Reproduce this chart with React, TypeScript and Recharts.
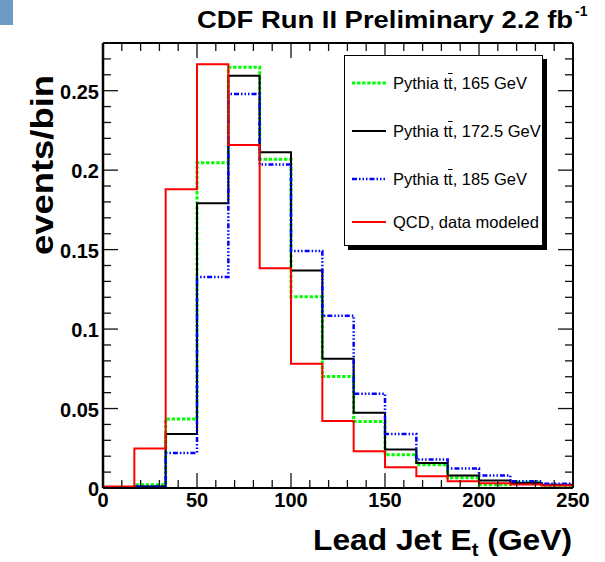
import React from 'react';
import { ComposedChart, Line, XAxis, YAxis, Legend } from 'recharts';

const FONT = '"Liberation Sans", Arial, Helvetica, sans-serif';

// Bin edges of the Lead Jet Et histogram (15 bins from 0 to 250 GeV)
const binEdges = [0, 16.67, 33.33, 50, 66.67, 83.33, 100, 116.67, 133.33, 150, 166.67, 183.33, 200, 216.67, 233.33, 250];

// events/bin per series (one value per bin)
const pythia165 = [0, 0.002, 0.0434, 0.2047, 0.2647, 0.2069, 0.1203, 0.0702, 0.0419, 0.021, 0.0147, 0.0065, 0.002, 0.0036, 0.001];
const pythia1725 = [0, 0.001, 0.034, 0.1792, 0.2594, 0.2113, 0.1368, 0.0813, 0.0474, 0.0243, 0.0158, 0.0079, 0.0047, 0.0032, 0.002];
const pythia185 = [0, 0.001, 0.0221, 0.1327, 0.2479, 0.2035, 0.1492, 0.1084, 0.0593, 0.034, 0.018, 0.0122, 0.0078, 0.0042, 0.0027];
const qcd = [0.001, 0.0248, 0.188, 0.2666, 0.2158, 0.1383, 0.0782, 0.0422, 0.0231, 0.013, 0.0074, 0.0042, 0.003, 0.0022, 0.0016];

// Axis ticks and labels
const xTicks = [0, 10, 20, 30, 40, 50, 60, 70, 80, 90, 100, 110, 120, 130, 140, 150, 160, 170, 180, 190, 200, 210, 220, 230, 240, 250];
const xLabelValues = [0, 50, 100, 150, 200, 250];
const yTicks = [0, 0.01, 0.02, 0.03, 0.04, 0.05, 0.06, 0.07, 0.08, 0.09, 0.1, 0.11, 0.12, 0.13, 0.14, 0.15, 0.16, 0.17, 0.18, 0.19, 0.2, 0.21, 0.22, 0.23, 0.24, 0.25, 0.26, 0.27, 0.28];
const yLabelValues = [0, 0.05, 0.1, 0.15, 0.2, 0.25];
const yLabelTexts = ['0', '0.05', '0.1', '0.15', '0.2', '0.25'];

const seriesKeys = ['p165', 'p1725', 'p185', 'qcd'];
const seriesColors = ['#00ff00', '#000000', '#0000ff', '#ff0000'];
const seriesWidths = [3, 2, 2.5, 2];
const seriesDashes = ['3.3 1.8', undefined, '5 2 1.5 2 1.5 2 1.5 2', undefined];
const legendMass = ['165 GeV', '172.5 GeV', '185 GeV'];
const legendRowCenters = [27, 75, 123, 166];

const seriesValues = [pythia165, pythia1725, pythia185, qcd];

const rows = binEdges.map((x, i) => {
  const r: Record<string, number> = { x };
  seriesKeys.forEach((k, s) => {
    const vals = seriesValues[s];
    r[k] = vals[Math.min(i, vals.length - 1)];
  });
  return r;
});

const yLabelFor = (v: number) => {
  const idx = yLabelValues.findIndex((m) => Math.abs(m - v) < 1e-9);
  return idx >= 0 ? yLabelTexts[idx] : null;
};

const TICK_COLOR = '#111';

function BottomTick(props: any) {
  const { x, y, payload } = props;
  const v = payload.value;
  const major = xLabelValues.includes(v);
  return (
    <g>
      <line x1={x} x2={x} y1={y} y2={y - (major ? 15 : 8)} stroke={TICK_COLOR} strokeWidth={1.3} />
      {major && (
        <text x={x} y={y + 19} textAnchor="middle" fontSize={20} fontWeight="bold" fontFamily={FONT} fill="#000">
          {v}
        </text>
      )}
    </g>
  );
}

function TopTick(props: any) {
  const { x, y, payload } = props;
  const major = xLabelValues.includes(payload.value);
  return <line x1={x} x2={x} y1={y} y2={y + (major ? 15 : 8)} stroke={TICK_COLOR} strokeWidth={1.3} />;
}

function LeftTick(props: any) {
  const { x, y, payload } = props;
  const label = yLabelFor(payload.value);
  const major = label !== null;
  return (
    <g>
      <line x1={x} x2={x + (major ? 15 : 8)} y1={y} y2={y} stroke={TICK_COLOR} strokeWidth={1.3} />
      {major && (
        <text x={x - 4} y={y + 8} textAnchor="end" fontSize={20} fontWeight="bold" fontFamily={FONT} fill="#000">
          {label}
        </text>
      )}
    </g>
  );
}

function RightTick(props: any) {
  const { x, y, payload } = props;
  const major = yLabelFor(payload.value) !== null;
  return <line x1={x} x2={x - (major ? 15 : 8)} y1={y} y2={y} stroke={TICK_COLOR} strokeWidth={1.3} />;
}

function LegendLabel({ i }: { i: number }) {
  if (i < 3) {
    return (
      <span>
        Pythia t<span style={{ textDecoration: 'overline' }}>t</span>, {legendMass[i]}
      </span>
    );
  }
  return <span>QCD, data modeled</span>;
}

function LegendBox() {
  return (
    <div
      style={{
        position: 'relative',
        width: 199,
        height: 191,
        boxSizing: 'border-box',
        border: '1px solid #000',
        background: '#fff',
        boxShadow: '4px 4px 0 #000',
        fontFamily: FONT,
        fontSize: 16.5,
        color: '#000',
      }}
    >
      {seriesKeys.map((k, i) => (
        <div
          key={k}
          style={{
            position: 'absolute',
            left: 0,
            top: legendRowCenters[i] - 10,
            height: 20,
            display: 'flex',
            alignItems: 'center',
            whiteSpace: 'nowrap',
          }}
        >
          <svg width={48} height={20} style={{ display: 'block' }}>
            <line
              x1={7}
              x2={41}
              y1={10}
              y2={10}
              stroke={seriesColors[i]}
              strokeWidth={seriesWidths[i]}
              strokeDasharray={seriesDashes[i]}
            />
          </svg>
          <span style={{ lineHeight: '20px' }}>
            <LegendLabel i={i} />
          </span>
        </div>
      ))}
    </div>
  );
}

export default function App() {
  return (
    <div
      style={{
        position: 'absolute',
        left: 0,
        top: 0,
        width: 605,
        height: 562,
        background: '#fff',
        overflow: 'hidden',
        fontFamily: FONT,
      }}
    >
      <div style={{ position: 'absolute', left: 0, top: 0, width: 13, height: 25, background: '#6b9bc4' }} />
      <ComposedChart width={605} height={562} data={rows} margin={{ top: 42, right: 31, bottom: 73, left: 102 }}>
        <XAxis
          dataKey="x"
          type="number"
          domain={[0, 250]}
          allowDataOverflow
          ticks={xTicks}
          interval={0}
          tickSize={0}
          tickMargin={0}
          height={1}
          tickLine={false}
          tick={BottomTick}
          axisLine={{ stroke: '#000', strokeWidth: 2 }}
        />
        <XAxis
          xAxisId="top"
          orientation="top"
          dataKey="x"
          type="number"
          domain={[0, 250]}
          allowDataOverflow
          ticks={xTicks}
          interval={0}
          tickSize={0}
          tickMargin={0}
          height={1}
          tickLine={false}
          tick={TopTick}
          axisLine={{ stroke: '#000', strokeWidth: 2 }}
        />
        <YAxis
          type="number"
          domain={[0, 0.28]}
          allowDataOverflow
          ticks={yTicks}
          interval={0}
          tickSize={0}
          tickMargin={0}
          width={1}
          tickLine={false}
          tick={LeftTick}
          axisLine={{ stroke: '#000', strokeWidth: 2.5 }}
        />
        <YAxis
          yAxisId="right"
          orientation="right"
          type="number"
          domain={[0, 0.28]}
          allowDataOverflow
          ticks={yTicks}
          interval={0}
          tickSize={0}
          tickMargin={0}
          width={1}
          tickLine={false}
          tick={RightTick}
          axisLine={{ stroke: '#000', strokeWidth: 2 }}
        />
        {seriesKeys.map((k, i) => (
          <Line
            key={k}
            dataKey={k}
            type="stepAfter"
            stroke={seriesColors[i]}
            strokeWidth={seriesWidths[i]}
            strokeDasharray={seriesDashes[i]}
            dot={false}
            activeDot={false}
            isAnimationActive={false}
            strokeLinecap="butt"
            strokeLinejoin="miter"
          />
        ))}
        <Legend
          layout="horizontal"
          verticalAlign="middle"
          align="center"
          content={() => <LegendBox />}
          wrapperStyle={{ position: 'absolute', left: 344, top: 55, width: 199, height: 191 }}
        />
      </ComposedChart>
      <svg
        width={605}
        height={562}
        style={{ position: 'absolute', left: 0, top: 0, pointerEvents: 'none' }}
      >
        <text
          x={197}
          y={28}
          textLength={376}
          lengthAdjust="spacingAndGlyphs"
          fontSize={24}
          fontWeight="bold"
          fontFamily={FONT}
          fill="#000"
        >
          CDF Run II Preliminary 2.2 fb
        </text>
        <text x={575} y={16} fontSize={14} fontWeight="bold" fontFamily={FONT} fill="#000">
          -1
        </text>
        <text
          transform="translate(53,165) rotate(-90)"
          textAnchor="middle"
          textLength={180}
          lengthAdjust="spacingAndGlyphs"
          fontSize={32}
          fontWeight="bold"
          fontFamily={FONT}
          fill="#000"
        >
          events/bin
        </text>
        <text
          x={313}
          y={550}
          textLength={259}
          lengthAdjust="spacingAndGlyphs"
          fontSize={30}
          fontWeight="bold"
          fontFamily={FONT}
          fill="#000"
        >
          Lead Jet E
          <tspan dy={6} fontSize={19}>
            t
          </tspan>
          <tspan dy={-6}> (GeV)</tspan>
        </text>
      </svg>
    </div>
  );
}
